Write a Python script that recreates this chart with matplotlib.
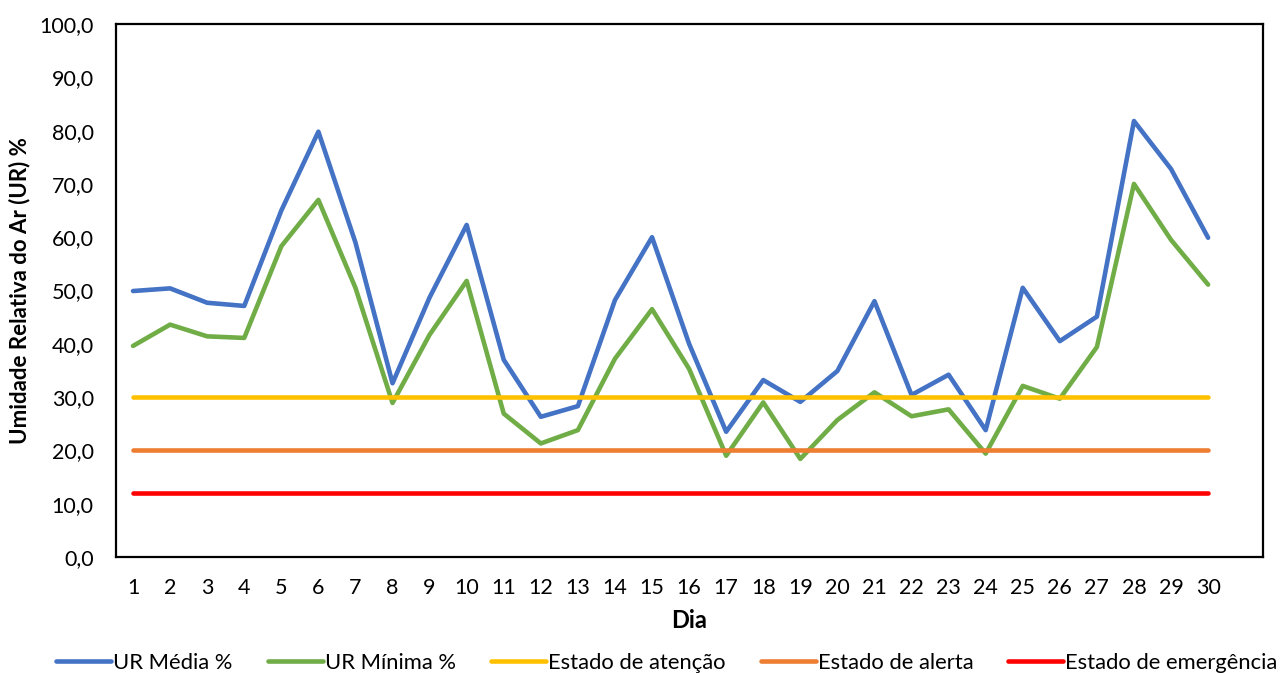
import matplotlib.pyplot as plt
from matplotlib.ticker import FuncFormatter

plt.rcParams['font.family'] = ['Lato', 'DejaVu Sans']

# daily relative humidity values
dias = list(range(1, 31))
ur_media = [49.9, 50.4, 47.7, 47.1, 65.0, 79.8, 59.0, 32.6, 48.7, 62.3,
            37.0, 26.3, 28.3, 48.2, 60.0, 40.0, 23.5, 33.2, 29.1, 34.9,
            48.0, 30.4, 34.2, 23.8, 50.5, 40.5, 45.1, 81.8, 72.8, 59.9]
ur_minima = [39.6, 43.6, 41.4, 41.1, 58.3, 67.0, 50.5, 28.9, 41.7, 51.8,
             26.9, 21.3, 23.8, 37.2, 46.5, 35.3, 19.0, 29.0, 18.4, 25.7,
             30.9, 26.4, 27.7, 19.4, 32.1, 29.7, 39.4, 70.0, 59.5, 51.1]
estado_atencao = 30.0
estado_alerta = 20.0
estado_emergencia = 12.0

fig = plt.figure(figsize=(12.8, 6.73), dpi=100)
ax = fig.add_axes([0.0906, 0.1724, 0.8961, 0.7919])

lw = 3.3
ax.plot(dias, ur_media, color='#4472C4', lw=lw, solid_capstyle='round', solid_joinstyle='round', label='UR Média %')
ax.plot(dias, ur_minima, color='#70AD47', lw=lw, solid_capstyle='round', solid_joinstyle='round', label='UR Mínima %')
ax.plot(dias, [estado_atencao] * 30, color='#FFC000', lw=lw, solid_capstyle='round', label='Estado de atenção')
ax.plot(dias, [estado_alerta] * 30, color='#ED7D31', lw=lw, solid_capstyle='round', label='Estado de alerta')
ax.plot(dias, [estado_emergencia] * 30, color='#FF0000', lw=lw, solid_capstyle='round', label='Estado de emergência')

ax.set_xlim(0.54, 31.48)
ax.set_ylim(0, 100)
ax.set_xticks(dias)
ax.set_yticks(range(0, 101, 10))
ax.yaxis.set_major_formatter(FuncFormatter(lambda v, p: f'{v:.1f}'.replace('.', ',')))
ax.tick_params(axis='both', length=0, labelsize=15.5, colors='black')
ax.tick_params(axis='y', pad=16)
ax.tick_params(axis='x', pad=15)
for s in ax.spines.values():
    s.set_linewidth(1.6)
    s.set_color('black')

ax.set_xlabel('Dia', fontsize=17, fontweight='bold', labelpad=8)
ax.set_ylabel('Umidade Relativa do Ar (UR) %', fontsize=16, fontweight='bold')
ax.yaxis.set_label_coords(-0.075, 0.5)

fig.legend(loc='center', bbox_to_anchor=(667 / 1280, 1 - 663 / 673), ncol=5, frameon=False,
           fontsize=15.8, handlelength=2.5, handletextpad=0.1, columnspacing=1.6)

fig.savefig('out.png', dpi=100)
